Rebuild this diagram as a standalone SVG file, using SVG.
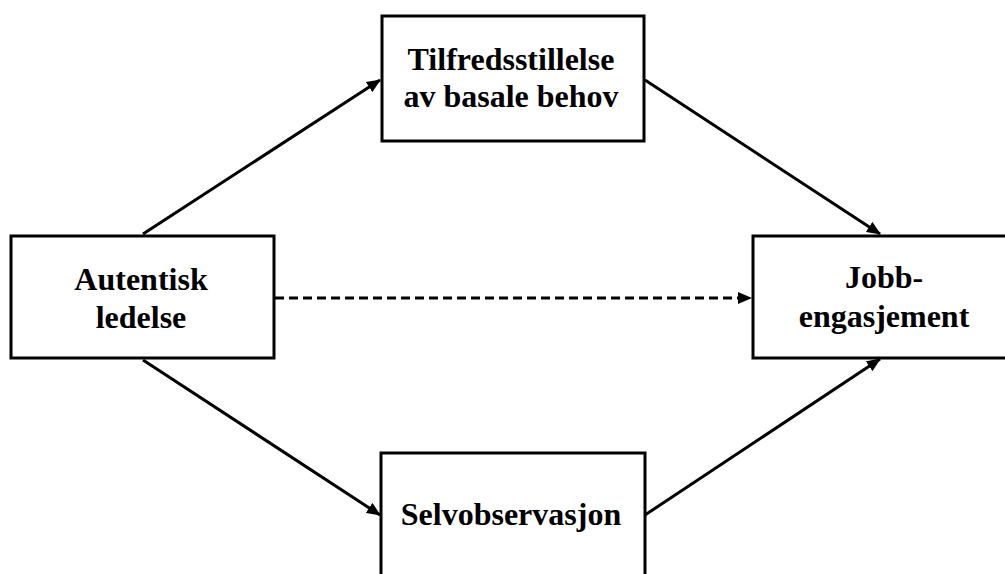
<svg xmlns="http://www.w3.org/2000/svg" width="1005" height="574" viewBox="0 0 1005 574">
<style>
.box{fill:#fff;stroke:#000;stroke-width:3}
.lbl{font-family:"Liberation Serif","Times New Roman",serif;font-weight:bold;font-size:32px;fill:#000;text-anchor:middle}
.con{stroke:#000;stroke-width:3;fill:none}
.dash{stroke-dasharray:9 5}
</style>
<defs>
<marker id="arr" markerUnits="userSpaceOnUse" markerWidth="14" markerHeight="12" refX="13" refY="6" orient="auto">
<path d="M0,0 L14,6 L0,12 z" fill="#000"/>
</marker>
</defs>
<rect width="1005" height="574" fill="#fff"/>
<g id="connectors">
<line class="con" x1="143" y1="234" x2="380" y2="80" marker-end="url(#arr)"/>
<line class="con" x1="645" y1="80" x2="880" y2="234" marker-end="url(#arr)"/>
<line class="con" x1="143" y1="360" x2="380" y2="515" marker-end="url(#arr)"/>
<line class="con" x1="645" y1="515" x2="880" y2="359" marker-end="url(#arr)"/>
<line class="con dash" x1="275" y1="298" x2="751" y2="298" marker-end="url(#arr)"/>
</g>
<g id="n-top">
<rect class="box" x="382" y="16" width="262" height="125"/>
<text class="lbl" x="511" y="70">Tilfredsstillelse</text>
<text class="lbl" x="511" y="107">av basale behov</text>
</g>
<g id="n-left">
<rect class="box" x="11" y="236" width="263" height="122"/>
<text class="lbl" x="141" y="290">Autentisk</text>
<text class="lbl" x="141" y="328">ledelse</text>
</g>
<g id="n-right">
<rect class="box" x="753" y="236" width="265" height="122"/>
<text class="lbl" x="884" y="288">Jobb-</text>
<text class="lbl" x="884" y="327">engasjement</text>
</g>
<g id="n-bottom">
<rect class="box" x="381" y="453" width="264" height="140"/>
<text class="lbl" x="511" y="525">Selvobservasjon</text>
</g>
</svg>
